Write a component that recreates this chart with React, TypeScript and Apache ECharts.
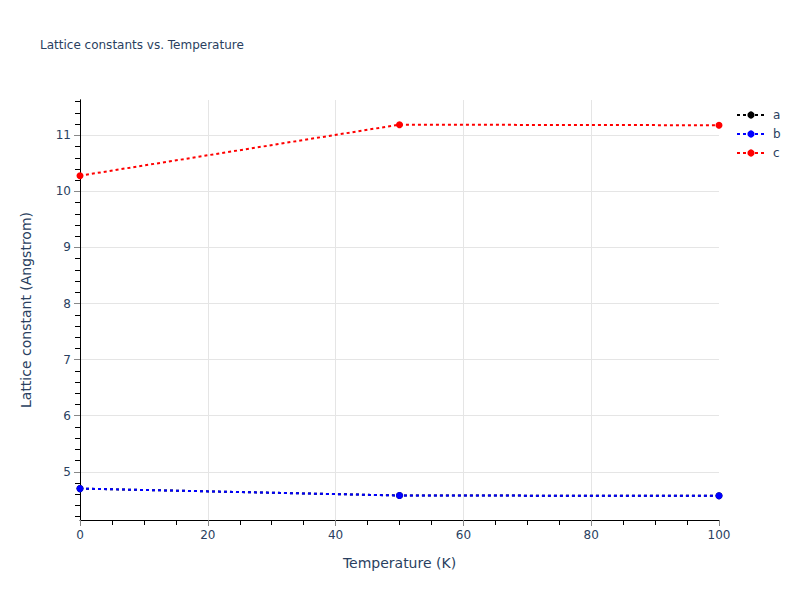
import { useEffect, useRef } from "react";
import * as echarts from "echarts";

const temps = [0, 50, 100];
const aVals = [4.7, 4.577, 4.571];
const bVals = [4.7, 4.577, 4.571];
const cVals = [10.28, 11.19, 11.18];

const yMajor = [5, 6, 7, 8, 9, 10, 11];
const yMinor = [
  4.2, 4.4, 4.6, 4.8, 5.2, 5.4, 5.6, 5.8, 6.2, 6.4, 6.6, 6.8, 7.2, 7.4, 7.6, 7.8,
  8.2, 8.4, 8.6, 8.8, 9.2, 9.4, 9.6, 9.8, 10.2, 10.4, 10.6, 10.8, 11.2, 11.4, 11.6,
];

const FONT = '"DejaVu Sans", verdana, arial, sans-serif';
const TXT = "#2a3f5f";

export default function App() {
  const elRef = useRef<HTMLDivElement>(null);

  useEffect(() => {
    if (!elRef.current) return;
    const chart = echarts.init(elRef.current, undefined, { renderer: "svg" });
    const mk = (name: string, vals: number[], color: string) => ({
      name,
      type: "line",
      xAxisIndex: 0,
      yAxisIndex: 0,
      data: temps.map((t, i) => [t, vals[i]]),
      symbol: "circle",
      symbolSize: 7,
      itemStyle: { color },
      lineStyle: { color, width: 2, type: [3, 3] },
      clip: true,
    });
    chart.setOption({
      animation: false,
      backgroundColor: "#fff",
      textStyle: { fontFamily: FONT },
      title: {
        text: "Lattice constants vs. Temperature",
        left: 35,
        top: 34,
        textStyle: { fontSize: 12, fontWeight: "normal", color: TXT, fontFamily: FONT },
      },
      legend: {
        orient: "vertical",
        left: 736,
        top: 109,
        padding: 0,
        itemWidth: 28,
        itemHeight: 9,
        itemGap: 7,
        data: ["a", "b", "c"],
        textStyle: { color: TXT, fontSize: 12, fontFamily: FONT, padding: [0, 0, 0, 3] },
      },
      grid: { left: 80, right: 81, top: 100, bottom: 80, containLabel: false },
      xAxis: {
        type: "value",
        min: 0,
        max: 100,
        interval: 20,
        name: "Temperature (K)",
        nameLocation: "middle",
        nameGap: 36,
        nameTextStyle: { color: TXT, fontSize: 14, fontFamily: FONT },
        axisLine: { show: true, lineStyle: { color: "#000", width: 1 } },
        axisTick: { show: true, length: 6, lineStyle: { color: "#888" } },
        minorTick: { show: true, splitNumber: 4, length: 5, lineStyle: { color: "#000" } },
        axisLabel: { color: TXT, fontSize: 12, margin: 9, fontFamily: FONT },
        splitLine: { show: true, showMinLine: false, showMaxLine: false, lineStyle: { color: "#e5e5e5", width: 1 } },
      },
      yAxis: [
        {
          type: "value",
          min: 4.14,
          max: 11.63,
          position: "left",
          name: "Lattice constant (Angstrom)",
          nameLocation: "middle",
          nameGap: 47,
          nameTextStyle: { color: TXT, fontSize: 14, fontFamily: FONT },
          axisLine: { show: true, lineStyle: { color: "#000", width: 1 } },
          axisTick: { show: true, length: 6, customValues: yMajor, lineStyle: { color: "#888" } },
          axisLabel: { color: TXT, fontSize: 12, margin: 9, customValues: yMajor, fontFamily: FONT },
          splitLine: { show: true, lineStyle: { color: "#e5e5e5", width: 1 } },
        },
        {
          type: "value",
          min: 4.14,
          max: 11.63,
          position: "left",
          offset: 0,
          axisLine: { show: true, lineStyle: { color: "#000", width: 1 } },
          axisTick: { show: true, length: 5, customValues: yMinor, lineStyle: { color: "#000" } },
          axisLabel: { show: false },
          splitLine: { show: false },
        },
      ],
      series: [mk("a", aVals, "#000"), mk("b", bVals, "#0000ff"), mk("c", cVals, "#ff0000")],
    });
    return () => chart.dispose();
  }, []);

  return (
    <div
      ref={elRef}
      style={{ position: "fixed", left: 0, top: 0, width: 800, height: 600 }}
    />
  );
}
